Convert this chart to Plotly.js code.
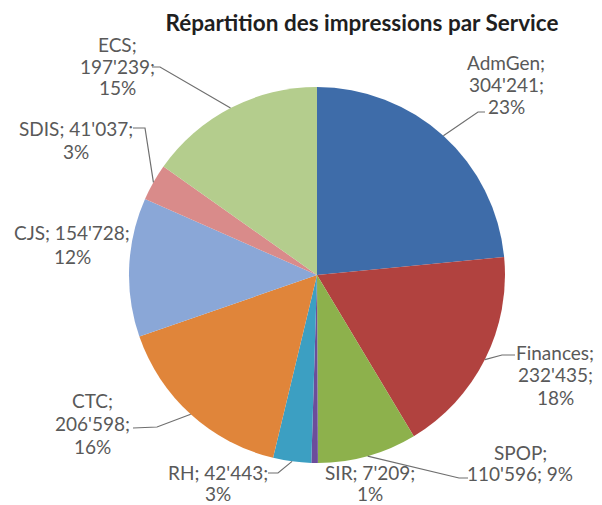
<!DOCTYPE html>
<html>
<head>
<meta charset="utf-8">
<script src="https://cdn.plot.ly/plotly-3.0.1.min.js"></script>
<style>html,body{margin:0;padding:0;background:#fff;}#chart{width:602px;height:505px;}</style>
</head>
<body>
<div id="chart"></div>
<script>
// ---- DATA ----
const services = ['AdmGen', 'Finances', 'SPOP', 'SIR', 'RH', 'CTC', 'CJS', 'SDIS', 'ECS'];
const impressions = [304241, 232435, 110596, 7209, 42443, 206598, 154728, 41037, 197239];
const chartTitle = 'Répartition des impressions par Service';

// ---- STYLE ----
const colors = ['#3E6CA9', '#B1423F', '#8DB14C', '#6C4D9B', '#3C9FC2', '#E0853A', '#8AA7D7', '#D98B8A', '#B4CD8D'];
const W = 602, H = 505;
const CX = 317, CY = 275, R = 188;
// label placement (px): center x, first line y, line pattern, line gap, leader end & elbow
const labelStyle = {
  AdmGen:   {x: 506, y: 62,  pat: '3',  gap: 22.5, lead: [[485, 112], [478, 112]]},
  Finances: {x: 555, y: 352, pat: '3',  gap: 22.5, lead: [[515, 355], [502, 355]]},
  SPOP:     {x: 520, y: 452, pat: 'n',  gap: 21,   lead: [[468, 478], [459, 478]]},
  SIR:      {x: 370, y: 472.5, pat: 'nv', gap: 21, lead: null},
  RH:       {x: 218, y: 472.5, pat: 'nv', gap: 21, lead: [[268, 473], [278, 473]]},
  CTC:      {x: 92,  y: 400, pat: '3',  gap: 23,   lead: [[133, 428], [157, 427]]},
  CJS:      {x: 72,  y: 233, pat: 'nv', gap: 23,   lead: null},
  SDIS:     {x: 76,  y: 128, pat: 'nv', gap: 23,   lead: [[133, 128], [145, 128]]},
  ECS:      {x: 117, y: 45,  pat: '3',  gap: 21.5, lead: [[152, 67], [160, 67]]}
};

function fmt(n) { return String(n).replace(/\B(?=(\d{3})+(?!\d))/g, "'"); }
const total = impressions.reduce((a, b) => a + b, 0);

const trace = {
  type: 'pie',
  labels: services,
  values: impressions,
  sort: false,
  direction: 'clockwise',
  rotation: 0,
  textinfo: 'none',
  hoverinfo: 'label+value+percent',
  marker: {colors: colors, line: {width: 0}},
  domain: {x: [(CX - R) / W, (CX + R) / W], y: [(H - CY - R) / H, (H - CY + R) / H]},
  showlegend: false
};

const annotations = [];
const shapes = [];
const px = x => x / W, py = y => 1 - y / H;
let cum = 0;
services.forEach((s, i) => {
  const v = impressions[i];
  const pct = Math.round(v / total * 100) + '%';
  const mid = (cum + v / 2) / total * 2 * Math.PI;
  cum += v;
  const st = labelStyle[s];
  let lines;
  if (st.pat === '3') lines = [s + ';', fmt(v) + ';', pct];
  else if (st.pat === 'nv') lines = [s + '; ' + fmt(v) + ';', pct];
  else lines = [s + ';', fmt(v) + '; ' + pct];
  lines.forEach((t, k) => {
    annotations.push({
      xref: 'paper', yref: 'paper', x: px(st.x), y: py(st.y + k * st.gap),
      xanchor: 'center', yanchor: 'middle', text: t, showarrow: false,
      font: {family: 'Lato, sans-serif', size: 19, color: '#595959'}
    });
  });
  if (st.lead) {
    const ex = CX + R * Math.sin(mid), ey = CY - R * Math.cos(mid);
    const p = [st.lead[0], st.lead[1], [ex, ey]];
    shapes.push({
      type: 'path', xref: 'paper', yref: 'paper',
      path: 'M' + p.map(q => px(q[0]) + ',' + py(q[1])).join(' L'),
      line: {color: '#6f6f6f', width: 1.2}
    });
  }
});

const layout = {
  width: W, height: H,
  margin: {l: 0, r: 0, t: 0, b: 0},
  paper_bgcolor: '#ffffff',
  title: {
    text: '<b>' + chartTitle + '</b>',
    x: 362 / W, xanchor: 'center', xref: 'paper',
    y: 1 - 23 / H, yanchor: 'middle', yref: 'paper',
    font: {family: 'Lato, sans-serif', size: 22.5, color: '#1f1f1f'}
  },
  annotations: annotations,
  shapes: shapes
};

Plotly.newPlot('chart', [trace], layout, {displayModeBar: false, staticPlot: true});
</script>
</body>
</html>
